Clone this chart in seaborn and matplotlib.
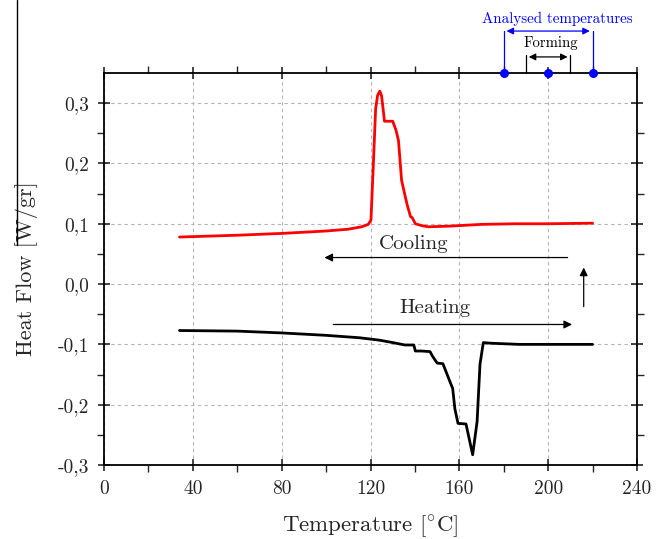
# plot.py
# DSC heat flow curves (cooling / heating) with analysed temperature markers

import matplotlib
matplotlib.use("Agg")
import matplotlib.pyplot as plt
from matplotlib.lines import Line2D
import matplotlib.transforms as mtransforms
import seaborn as sns

sns.set_style("ticks")
plt.rcParams["font.family"] = ["cmr10", "DejaVu Serif"]
plt.rcParams["mathtext.fontset"] = "cm"
plt.rcParams["axes.unicode_minus"] = False

# ── Data ──────────────────────────────────────────────────
cool_temp = [34, 60, 80, 100, 110, 116, 119, 120.2, 121.3, 122.3, 123.2, 124.2,
             125.0, 126.3, 130.0, 131.5, 132.6, 134.0, 136.4, 138.0, 138.8,
             140.2, 143, 146, 155, 170, 185, 200, 220]
cool_flow = [0.078, 0.081, 0.084, 0.088, 0.091, 0.095, 0.099, 0.106, 0.20, 0.29,
             0.313, 0.32, 0.312, 0.27, 0.27, 0.255, 0.238, 0.172, 0.133, 0.112,
             0.11, 0.10, 0.097, 0.095, 0.096, 0.099, 0.100, 0.100, 0.101]

heat_temp = [34, 60, 80, 100, 115, 124, 130, 135.5, 139.5, 140.2, 143, 146.8,
             148, 150, 152.6, 155.8, 157, 158, 159.4, 163, 166, 168, 169.3,
             170.8, 173.8, 187, 220]
heat_flow = [-0.077, -0.078, -0.081, -0.085, -0.089, -0.093, -0.097, -0.101,
             -0.101, -0.111, -0.111, -0.112, -0.12, -0.131, -0.132, -0.162,
             -0.173, -0.207, -0.231, -0.232, -0.283, -0.228, -0.133, -0.097,
             -0.098, -0.100, -0.100]

x_ticks = [0, 40, 80, 120, 160, 200, 240]
y_ticks = [-0.3, -0.2, -0.1, 0.0, 0.1, 0.2, 0.3]
y_tick_labels = ["-0,3", "-0,2", "-0,1", "0,0", "0,1", "0,2", "0,3"]

analysed = [180, 200, 220]
forming = [190, 210]

# ── Figure ────────────────────────────────────────────────
fig = plt.figure(figsize=(6.65, 5.39), dpi=100)
ax = fig.add_axes([104 / 665, 1 - 465 / 539, 533 / 665, 392 / 539])

sns.lineplot(x=cool_temp, y=cool_flow, ax=ax, color="#ff0000", linewidth=2.0)
sns.lineplot(x=heat_temp, y=heat_flow, ax=ax, color="black", linewidth=2.0)

ax.set_xlim(0, 240)
ax.set_ylim(-0.3, 0.35)
ax.set_xticks(x_ticks)
ax.set_xticks(range(20, 240, 40), minor=True)
ax.set_yticks(y_ticks)
ax.set_yticklabels(y_tick_labels)
ax.set_yticks([-0.25, -0.15, -0.05, 0.05, 0.15, 0.25], minor=True)

ax.grid(True, which="major", color="#b4b4b4", linestyle=(0, (3, 3)), linewidth=0.8)
for s in ax.spines.values():
    s.set_linewidth(1.3)
    s.set_color("black")

ax.tick_params(axis="both", which="major", direction="inout", length=9, width=1.2,
               labelsize=14, top=True, right=True, pad=6)
ax.tick_params(axis="both", which="minor", direction="out", length=5, width=1.0,
               top=True, right=True)

ax.set_xlabel(r"Temperature [$^{\circ}$C]", fontsize=16.5, labelpad=11)
ax.set_ylabel("Heat Flow [W/gr]", fontsize=16, labelpad=14)

# process arrows
arrow_kw = dict(arrowstyle="-|>", color="black", lw=0.9, mutation_scale=12)
ax.annotate("", xy=(98, 0.044), xytext=(210, 0.044), arrowprops=arrow_kw)
ax.text(139.5, 0.067, "Cooling", fontsize=15, ha="center", va="center")
ax.annotate("", xy=(212, -0.067), xytext=(102, -0.067), arrowprops=arrow_kw)
ax.text(149, -0.04, "Heating", fontsize=15, ha="center", va="center")
ax.annotate("", xy=(216, 0.032), xytext=(216, -0.042), arrowprops=arrow_kw)

# analysed temperatures above the plot
trans = mtransforms.blended_transform_factory(ax.transData, ax.transAxes)
ax.scatter(analysed, [1, 1, 1], transform=trans, color="#0000ff", s=30,
           zorder=5, clip_on=False)
for xv in [analysed[0], analysed[-1]]:
    ax.plot([xv, xv], [1, 1.107], transform=trans, color="#0000ff", lw=0.9,
            clip_on=False)
ax.annotate("", xy=(analysed[0], 1.107), xytext=(analysed[-1], 1.107),
            xycoords=trans, textcoords=trans,
            arrowprops=dict(arrowstyle="<|-|>", color="#0000ff", lw=0.9,
                            mutation_scale=10))
ax.text(204, 1.137, "Analysed temperatures", transform=trans, color="#0000ff",
        fontsize=10.8, ha="center", va="center")

for xv in forming:
    ax.plot([xv, xv], [1, 1.046], transform=trans, color="black", lw=0.9,
            clip_on=False)
ax.annotate("", xy=(forming[0], 1.041), xytext=(forming[1], 1.041),
            xycoords=trans, textcoords=trans,
            arrowprops=dict(arrowstyle="<|-|>", color="black", lw=0.9,
                            mutation_scale=10))
ax.text(201, 1.077, "Forming", transform=trans, color="black",
        fontsize=10.6, ha="center", va="center")

# stray border line at the left of the page
fig.add_artist(Line2D([17 / 665, 17 / 665], [1, 1 - 245 / 539], color="black", lw=1.0))

fig.savefig("out.png", dpi=100)
